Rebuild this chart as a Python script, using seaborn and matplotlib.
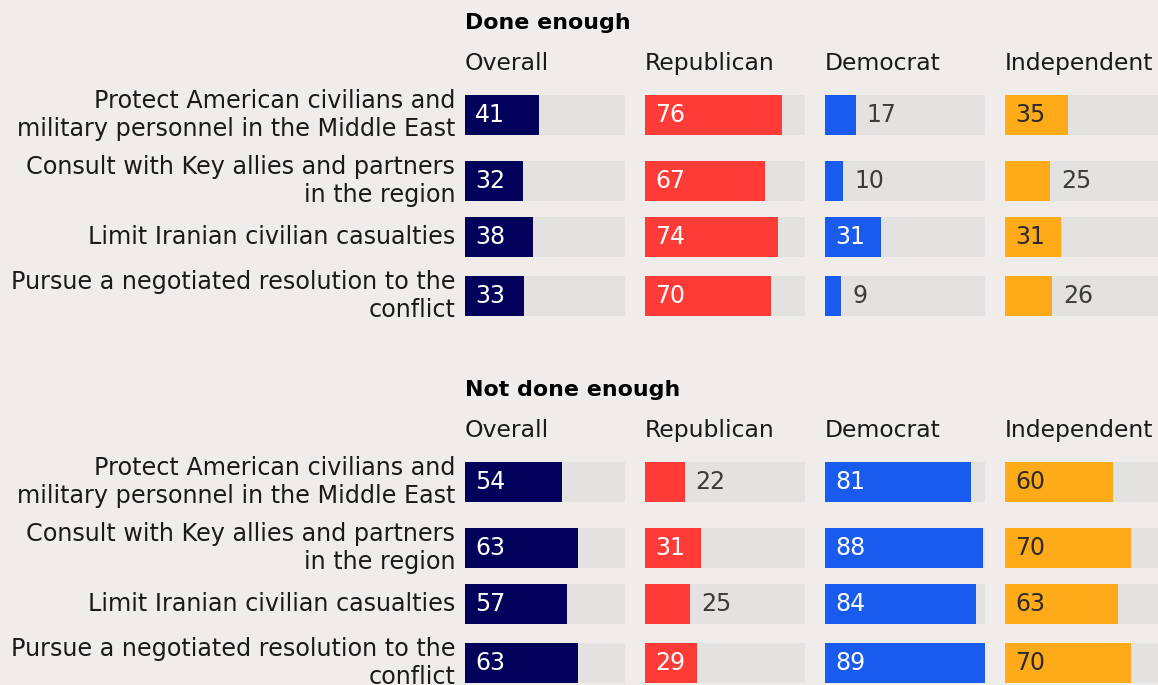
import matplotlib
matplotlib.use("Agg")
import matplotlib.pyplot as plt
import seaborn as sns
import pandas as pd

# Survey items (row labels) and party groups (column headers)
items = [
    "Protect American civilians and\nmilitary personnel in the Middle East",
    "Consult with Key allies and partners\nin the region",
    "Limit Iranian civilian casualties",
    "Pursue a negotiated resolution to the\nconflict",
]
groups = ["Overall", "Republican", "Democrat", "Independent"]
sections = ["Done enough", "Not done enough"]

# Percentages per group
done_overall = [41, 32, 38, 33]
done_republican = [76, 67, 74, 70]
done_democrat = [17, 10, 31, 9]
done_independent = [35, 25, 31, 26]

not_overall = [54, 63, 57, 63]
not_republican = [22, 31, 25, 29]
not_democrat = [81, 88, 84, 89]
not_independent = [60, 70, 63, 70]

values = {
    "Done enough": [done_overall, done_republican, done_democrat, done_independent],
    "Not done enough": [not_overall, not_republican, not_democrat, not_independent],
}

# Styling
BG = "#efecea"
TRACK = "#e3e2e0"
COLORS = ["#02005a", "#ff3b38", "#1a5bef", "#ffab19"]
INSIDE_TEXT = ["white", "white", "white", "#2b2b2b"]
OUTSIDE_TEXT = "#3b3b3b"
FONT = "DejaVu Sans"
FS_LABEL = 17.2
FS_HEADER = 16.9
FS_VALUE = 17
FS_TITLE = 15.9

sns.set_theme(style="white")
plt.rcParams["font.family"] = [FONT]

W, H = 1158, 685
fig = plt.figure(figsize=(W / 100, H / 100), dpi=100)
fig.patch.set_facecolor(BG)

track_max = max(max(v) for sec in values.values() for v in sec)

# pixel layout
col_x = [465, 645, 825, 1005]
col_w = 160
label_right = 455
sec_offset = [0, 367]
title_base = 29
header_base = 70
row_top = [95, 161, 217, 276]
bar_h = 40
inside_cut = 28


def fx(px):
    return px / W


def fy(py):
    return 1 - py / H


for s, sec in enumerate(sections):
    off = sec_offset[s]
    fig.text(fx(col_x[0]), fy(title_base + off), sec, fontsize=FS_TITLE, fontweight="bold",
             color="black", ha="left", va="baseline")
    for c, g in enumerate(groups):
        fig.text(fx(col_x[c]), fy(header_base + off), g, fontsize=FS_HEADER, color="#1a1a1a",
                 ha="left", va="baseline")
    for r, item in enumerate(items):
        top = row_top[r] + off
        fig.text(fx(label_right), fy(top + bar_h / 2), item, fontsize=FS_LABEL,
                 color="#1a1a1a", ha="right", va="center", multialignment="right",
                 linespacing=1.2)
        for c, g in enumerate(groups):
            v = values[sec][c][r]
            ax = fig.add_axes([fx(col_x[c]), fy(top + bar_h), col_w / W, bar_h / H])
            ax.set_facecolor("none")
            df = pd.DataFrame({"item": [item], "value": [v], "track": [track_max]})
            sns.barplot(data=df, x="track", y="item", orient="h", color=TRACK,
                        width=1, saturation=1, linewidth=0, ax=ax)
            sns.barplot(data=df, x="value", y="item", orient="h", color=COLORS[c],
                        width=1, saturation=1, linewidth=0, ax=ax)
            ax.set_xlim(0, track_max)
            ax.set_ylim(0.5, -0.5)
            ax.axis("off")
            if v >= inside_cut:
                ax.annotate(str(v), xy=(0, 0), xytext=(7.2, 0), textcoords="offset points",
                            ha="left", va="center", fontsize=FS_VALUE, color=INSIDE_TEXT[c])
            else:
                ax.annotate(str(v), xy=(v, 0), xytext=(8, 0), textcoords="offset points",
                            ha="left", va="center", fontsize=FS_VALUE, color=OUTSIDE_TEXT)

fig.savefig("out.png", dpi=100, facecolor=BG)
